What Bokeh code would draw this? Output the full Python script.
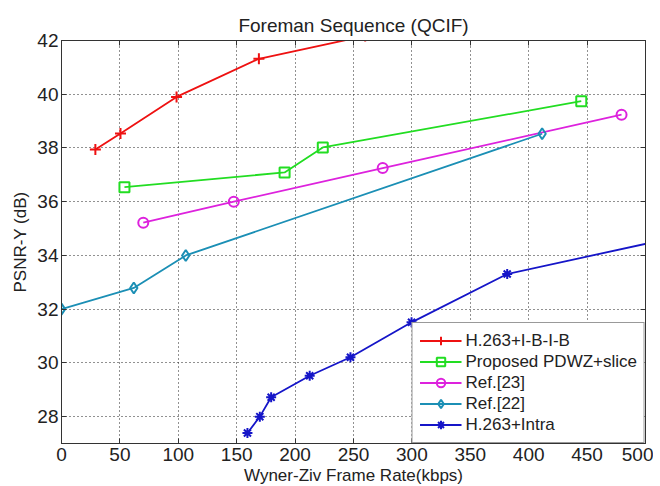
from bokeh.plotting import figure
from bokeh.models import LinearAxis, Range1d, FixedTicker, Legend, LegendItem
from bokeh.embed import file_html
from bokeh.resources import INLINE

# Data
ibib_x = [29, 50.5, 98.5, 169, 260]
ibib_y = [37.94, 38.54, 39.9, 41.32, 42.17]
pdwz_x = [53.9, 191, 223.7, 445]
pdwz_y = [36.54, 37.09, 38.02, 39.74]
ref23_x = [70, 147.5, 275, 479.5]
ref23_y = [35.22, 36.0, 37.25, 39.24]
ref22_x = [0, 61.9, 106.4, 411.5]
ref22_y = [32.0, 32.79, 34.0, 38.53]
intra_x = [159.2, 169.8, 179.5, 212.5, 247.4, 299.7, 381.6, 520]
intra_y = [27.39, 28.0, 28.72, 29.52, 30.21, 31.51, 33.31, 34.62]

x_ticks = [0, 50, 100, 150, 200, 250, 300, 350, 400, 450, 500]
y_ticks = [28, 30, 32, 34, 36, 38, 40, 42]

FONT = "Liberation Sans"
TXT = "#222222"

p = figure(frame_width=584, frame_height=403, output_backend="svg", toolbar_location=None,
           x_range=Range1d(0, 500), y_range=Range1d(27, 42),
           min_border_left=61, min_border_right=8, min_border_top=40, min_border_bottom=40,
           title="Foreman Sequence (QCIF)")
p.title.align = "center"
p.title.text_font = FONT
p.title.text_font_size = "19px"
p.title.text_font_style = "normal"
p.title.text_color = TXT
p.title.offset = 0
p.title.standoff = 10

p.outline_line_color = "#333333"
p.background_fill_color = "white"
p.border_fill_color = "white"

for ax, lab in ((p.xaxis[0], "Wyner-Ziv Frame Rate(kbps)"), (p.yaxis[0], "PSNR-Y (dB)")):
    ax.axis_label = lab
    ax.axis_label_text_font = FONT
    ax.axis_label_text_font_size = "17px"
    ax.axis_label_text_font_style = "normal"
    ax.axis_label_text_color = TXT
    ax.major_label_text_font = FONT
    ax.major_label_text_font_size = "19px"
    ax.major_label_text_color = TXT
    ax.major_tick_in = 5
    ax.major_tick_out = 0
    ax.minor_tick_line_color = None
    ax.axis_line_color = "#333333"
    ax.major_tick_line_color = "#333333"
p.xaxis[0].ticker = FixedTicker(ticks=x_ticks)
p.yaxis[0].ticker = FixedTicker(ticks=y_ticks)
p.xaxis[0].axis_label_standoff = 2
p.yaxis[0].axis_label_standoff = 4
p.xaxis[0].major_label_standoff = 4
p.yaxis[0].major_label_standoff = 3

for loc, tk in (("above", x_ticks), ("right", y_ticks)):
    a = LinearAxis(ticker=FixedTicker(ticks=tk), major_label_text_font_size="0px",
                   major_tick_in=5, major_tick_out=0, minor_tick_line_color=None,
                   major_label_standoff=0,
                   axis_line_color="#333333", major_tick_line_color="#333333")
    a.major_label_text_color = None
    p.add_layout(a, loc)

p.xgrid.ticker = FixedTicker(ticks=x_ticks)
p.ygrid.ticker = FixedTicker(ticks=y_ticks)
for g in (p.xgrid[0], p.ygrid[0]):
    g.grid_line_color = "#222222"
    g.grid_line_dash = "1 3"
    g.grid_line_width = 1

series = [
    ("H.263+I-B-I-B", ibib_x, ibib_y, "#ee1111", "cross", 11, False),
    ("Proposed PDWZ+slice", pdwz_x, pdwz_y, "#22dd22", "square", 10, False),
    ("Ref.[23]", ref23_x, ref23_y, "#dd22dd", "circle", 10, False),
    ("Ref.[22]", ref22_x, ref22_y, "#1b8fb5", "diamond", 11, False),
    ("H.263+Intra", intra_x, intra_y, "#1515c8", "asterisk", 10, True),
]
items = []
for name, xs, ys, col, mk, sz, filled in series:
    r1 = p.line(xs, ys, line_color=col, line_width=1.8)
    r2 = p.scatter(xs, ys, marker=mk, size=sz, line_color=col, line_width=2,
                   fill_color=col if filled else None)
    items.append(LegendItem(label=name, renderers=[r1, r2]))

leg = Legend(items=items, location="bottom_right", margin=0, padding=7, spacing=0,
             glyph_width=42, glyph_height=21, label_height=21,
             label_text_font=FONT, label_text_font_size="17px", label_text_color=TXT,
             label_standoff=4,
             border_line_color="#333333", border_line_width=1,
             background_fill_color="white", background_fill_alpha=1.0)
p.add_layout(leg)

open("out.html", "w").write(file_html(p, INLINE))
